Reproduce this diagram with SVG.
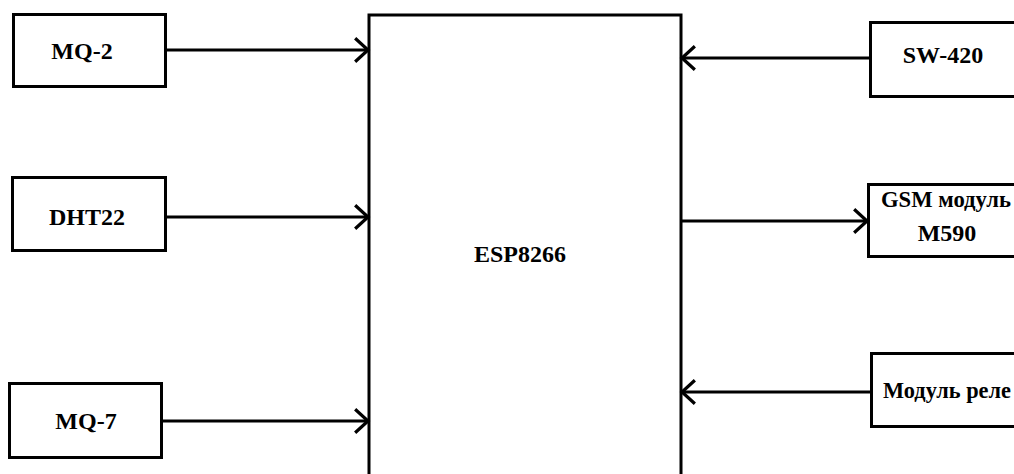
<svg xmlns="http://www.w3.org/2000/svg" width="1014" height="474" viewBox="0 0 1014 474">
<style>
.box{fill:#fff;stroke:#000;stroke-width:3}
.lbl{font-family:"Liberation Serif",serif;font-weight:bold;font-size:24px;fill:#000}
.conn{stroke:#000;stroke-width:3;fill:none}
</style>
<defs>
<marker id="arr" markerUnits="userSpaceOnUse" markerWidth="20" markerHeight="30" viewBox="-14 -14 16 28" refX="0" refY="0" orient="auto">
<path d="M-12,-11 L0,0 L-12,11" fill="none" stroke="#000" stroke-width="3"/>
</marker>
</defs>
<rect width="1014" height="474" fill="#fff"/>
<g id="esp8266">
<rect class="box" x="369" y="15" width="312" height="500" stroke-width="3.5"/>
<text class="lbl" x="520" y="262" text-anchor="middle" font-size="25">ESP8266</text>
</g>
<g id="mq2">
<rect class="box" x="13.5" y="14.5" width="152" height="72"/>
<text class="lbl" x="82" y="59" text-anchor="middle">MQ-2</text>
</g>
<g id="dht22">
<rect class="box" x="12.5" y="177.5" width="153" height="73"/>
<text class="lbl" x="87" y="225" text-anchor="middle">DHT22</text>
</g>
<g id="mq7">
<rect class="box" x="9.5" y="383.5" width="152" height="74"/>
<text class="lbl" x="86" y="429" text-anchor="middle">MQ-7</text>
</g>
<g id="sw420">
<rect class="box" x="870.5" y="22.5" width="170" height="74"/>
<text class="lbl" x="943" y="63" text-anchor="middle">SW-420</text>
</g>
<g id="gsm">
<rect class="box" x="868.5" y="184.5" width="170" height="72"/>
<text class="lbl" x="881" y="207" font-size="20" textLength="130" lengthAdjust="spacingAndGlyphs">GSM модуль</text>
<text class="lbl" x="947" y="241" text-anchor="middle" font-size="22">M590</text>
</g>
<g id="relay">
<rect class="box" x="871.5" y="353.5" width="170" height="73"/>
<text class="lbl" x="883" y="398" font-size="20" textLength="128" lengthAdjust="spacingAndGlyphs">Модуль реле</text>
</g>
<g id="connectors">
<line class="conn" x1="166" y1="50" x2="368" y2="50" marker-end="url(#arr)"/>
<line class="conn" x1="166" y1="217" x2="368" y2="217" marker-end="url(#arr)"/>
<line class="conn" x1="162" y1="421" x2="368" y2="421" marker-end="url(#arr)"/>
<line class="conn" x1="870" y1="58" x2="682" y2="58" marker-end="url(#arr)"/>
<line class="conn" x1="682" y1="221" x2="867" y2="221" marker-end="url(#arr)"/>
<line class="conn" x1="871" y1="392" x2="682" y2="392" marker-end="url(#arr)"/>
</g>
</svg>
